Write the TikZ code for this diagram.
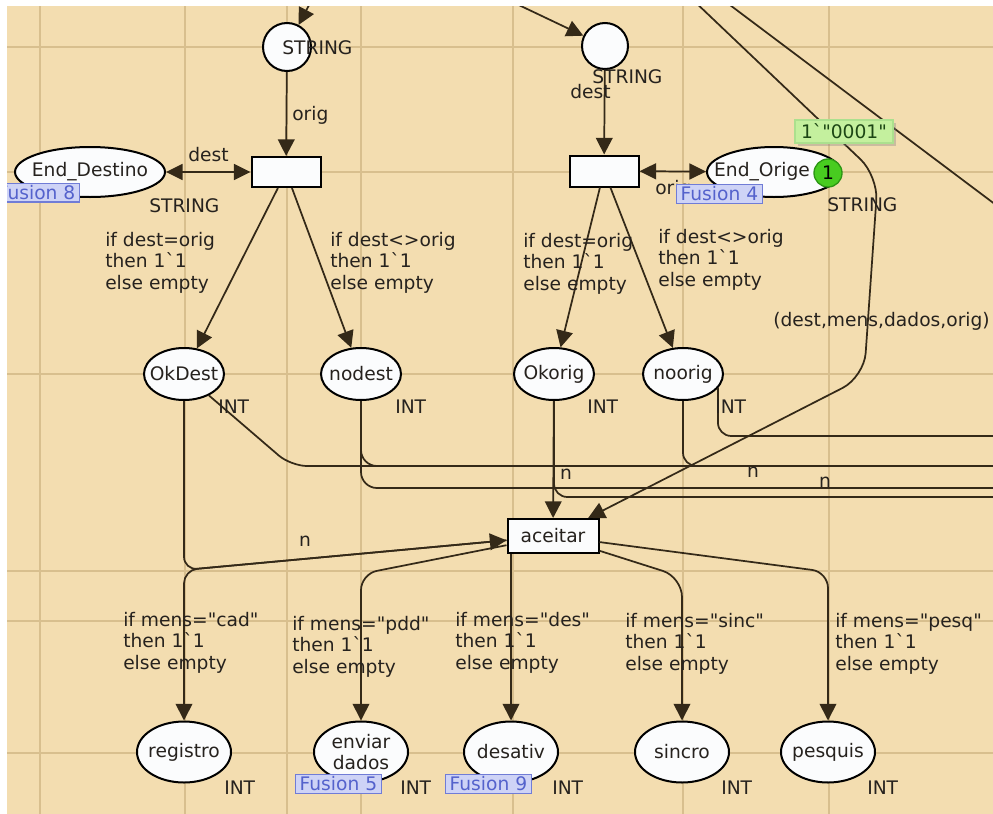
\documentclass[tikz,border=0pt]{standalone}
\usepackage{fontspec}
\usetikzlibrary{arrows.meta,shapes.geometric,shadows}
\newfontfamily\pn{DejaVu Sans}
\newcommand\pnsize{\fontsize{14}{16.1}\selectfont}
\definecolor{canvas}{RGB}{243,221,176}
\definecolor{guide}{RGB}{216,191,142}
\definecolor{arcc}{RGB}{52,41,24}
\definecolor{ink}{RGB}{38,34,30}
\definecolor{placefill}{RGB}{251,252,253}
\definecolor{fusfill}{RGB}{206,211,246}
\definecolor{fusline}{RGB}{112,124,214}
\definecolor{fustext}{RGB}{84,98,204}
\definecolor{markfill}{RGB}{196,240,158}
\definecolor{markline}{RGB}{172,224,142}
\definecolor{marktext}{RGB}{28,70,20}
\definecolor{tokfill}{RGB}{72,204,32}
\definecolor{tokline}{RGB}{44,150,20}
\begin{document}
\begin{tikzpicture}[x=0.75pt,y=-0.75pt,
  txt/.style={font=\pn\pnsize, text=ink},
  place/.style={ellipse, draw=black, line width=1.5pt, fill=placefill, inner sep=0pt, txt},
  trans/.style={rectangle, draw=black, line width=1.5pt, fill=placefill, inner sep=0pt, txt},
  link/.style={draw=arcc, line width=1.3pt},
  arc/.style={link, -{Triangle[length=12.5pt,width=12.5pt]}},
  arctwo/.style={link, {Triangle[length=12.5pt,width=12pt]}-{Triangle[length=12.5pt,width=12pt]}},
  lbl/.style={txt, inner sep=0pt, anchor=base west, align=left},
  nlbl/.style={txt, inner sep=0pt},
  fusion/.style={draw=fusline, fill=fusfill, line width=1pt, text=fustext, font=\pn\pnsize,
                 inner xsep=3pt, inner ysep=0.5pt, minimum height=14pt},
  guideline/.style={draw=guide, line width=1.3pt}
]
\useasboundingbox (0,0) rectangle (993,814);
\fill[white] (0,0) rectangle (993,814);
\begin{scope}
\clip (7,6) rectangle (993,814);
\fill[canvas] (7,6) rectangle (993,814);

% alignment guides
\foreach \gx in {40,185,287,361,513,683,829}
  \draw[guideline] (\gx,6) -- (\gx,814);
\foreach \gy in {47,172,374,571,621,753}
  \draw[guideline] (7,\gy) -- (993,\gy);

% places and transitions
\node[place, circle, minimum size=36pt] (p1) at (287,47) {};
\node[place, circle, minimum size=34.5pt] (p2) at (605,46) {};
\node[trans, minimum width=51.75pt, minimum height=22.5pt] (t1) at (286,172) {};
\node[trans, minimum width=51.75pt, minimum height=23.25pt] (t2) at (604,171) {};
\node[place, minimum width=112.5pt, minimum height=37.5pt] (endD) at (90,172) {\makebox[0pt]{End\_Destino}};
\node[place, minimum width=100.5pt, minimum height=37.5pt] (endO) at (774,172) {\makebox[0pt]{End\_Orige\hspace{18pt}}};
\node[place, minimum width=60pt, minimum height=39pt] (okdest) at (184,374) {\makebox[0pt]{OkDest}};
\node[place, minimum width=60pt, minimum height=39pt] (nodest) at (361,374) {\makebox[0pt]{nodest}};
\node[place, minimum width=60pt, minimum height=39pt] (okorig) at (554,374) {\makebox[0pt]{Okorig}};
\node[place, minimum width=60pt, minimum height=39pt] (noorig) at (683,374) {\makebox[0pt]{noorig}};
\node[trans, minimum width=68.25pt, minimum height=25.5pt] (aceitar) at (553,536) {\makebox[0pt]{aceitar}};
\node[place, minimum width=70.5pt, minimum height=45.75pt] (registro) at (184,752) {\makebox[0pt]{registro}};
\node[place, minimum width=70.5pt, minimum height=45.75pt, align=center] (enviar) at (361,752) {\makebox[0pt]{enviar}\\\makebox[0pt]{dados}};
\node[place, minimum width=70.5pt, minimum height=45.75pt] (desativ) at (511,752) {\makebox[0pt]{desativ}};
\node[place, minimum width=70.5pt, minimum height=45.75pt] (sincro) at (682,752) {\makebox[0pt]{sincro}};
\node[place, minimum width=70.5pt, minimum height=45.75pt] (pesquis) at (828,752) {\makebox[0pt]{pesquis}};

% free ends and bend points of the arcs
\coordinate (p1src) at (318,-12);
\coordinate (p2src) at (483,-12);
\coordinate (farA) at (710,-10);
\coordinate (farB) at (1012,217);
\coordinate (msgsrc) at (672,-20);
\coordinate (msgb1) at (878,176);
\coordinate (msgb2) at (864,377);
\coordinate (bReg) at (184,570);
\coordinate (bEnv) at (361,574);
\coordinate (bSin) at (682,577);
\coordinate (bPes) at (828,572);
\coordinate (bOkD) at (291,466);
\coordinate (rA) at (1012,466);
\coordinate (rB) at (1012,488);
\coordinate (rC) at (1012,497);
\coordinate (rD) at (1012,436);

% arcs
\draw[arc] (p1src) -- (p1);
\draw[arc] (p2src) -- (p2);
\draw[arc] (p1) -- (t1);
\draw[arc] (p2) -- (t2);
\draw[arctwo] (endD) -- (t1);
\draw[arctwo] (t2) -- (endO);
\draw[arc] (t1) -- (okdest);
\draw[arc] (t1) -- (nodest);
\draw[arc] (t2) -- (okorig);
\draw[arc] (t2) -- (noorig);
\draw[arc] (okorig) -- (aceitar);
\draw[arc, rounded corners=10pt] (okdest) -- (bReg) -- (aceitar);
\draw[arc, rounded corners=10pt] (aceitar) -- (bReg) -- (registro);
\draw[arc, rounded corners=12pt] (aceitar) -- (bEnv) -- (enviar);
\draw[arc] (desativ |- aceitar.south) -- (desativ);
\draw[arc, rounded corners=15pt] (aceitar) -- (bSin) -- (sincro);
\draw[arc, rounded corners=12pt] (aceitar) -- (bPes) -- (pesquis);
\draw[arc, rounded corners=18pt] (msgsrc) -- (msgb1) -- (msgb2) -- (aceitar);
\draw[link] (farA) -- (farB);
\draw[link, rounded corners=12pt] (okdest) -- (bOkD) -- (rA);
\draw[link, rounded corners=12pt] (nodest) |- (rA);
\draw[link, rounded corners=12pt] (nodest) |- (rB);
\draw[link, rounded corners=10pt] (okorig) |- (rC);
\draw[link, rounded corners=10pt] (noorig) |- (rA);
\draw[link, rounded corners=10pt] (noorig.-22) |- (rD);

% inscriptions (multi-line ones are placed by the baseline of their last line)
\node[lbl] (lstrp1) at (282,54) {STRING};
\node[lbl] (lorig1) at (292,120) {orig};
\node[lbl] (ldest1) at (188,161) {dest};
\node[lbl] (lstr1) at (149,212) {STRING};
\node[lbl] (lstrp2) at (592,83) {STRING};
\node[lbl] (ldest2) at (570,98) {dest};
\node[lbl] (lorig2) at (655,194) {orig};
\node[lbl] (lstr2) at (827,211) {STRING};
\node[lbl] (g1) at (105,289) {if dest=orig\\then 1`1\\else empty};
\node[lbl] (g2) at (330,289) {if dest<>orig\\then 1`1\\else empty};
\node[lbl] (g3) at (523,290) {if dest=orig\\then 1`1\\else empty};
\node[lbl] (g4) at (658,286) {if dest<>orig\\then 1`1\\else empty};
\node[lbl, anchor=base east] (lmsg) at (990,326) {(dest,mens,dados,orig)};
\node[lbl] (i1) at (218,413) {INT};
\node[lbl] (i2) at (395,413) {INT};
\node[lbl] (i3) at (587,413) {INT};
\node[lbl] (i4) at (715,413) {INT};
\node[nlbl] (n1) at (566,474) {n};
\node[nlbl] (n2) at (753,472) {n};
\node[nlbl] (n3) at (825,482) {n};
\node[nlbl] (n4) at (305,541) {n};
\node[lbl] (c1) at (123,669) {if mens="cad"\\then 1`1\\else empty};
\node[lbl] (c2) at (292,673) {if mens="pdd"\\then 1`1\\else empty};
\node[lbl] (c3) at (455,669) {if mens="des"\\then 1`1\\else empty};
\node[lbl] (c4) at (625,670) {if mens="sinc"\\then 1`1\\else empty};
\node[lbl] (c5) at (835,670) {if mens="pesq"\\then 1`1\\else empty};
\node[lbl] (i5) at (224,794) {INT};
\node[lbl] (i6) at (400,794) {INT};
\node[lbl] (i7) at (552,794) {INT};
\node[lbl] (i8) at (721,794) {INT};
\node[lbl] (i9) at (867,794) {INT};

% fusion tags
\node[fusion, anchor=east] (fus8) at (80,192.5) {Fusion 8};
\node[fusion, anchor=west] (fus4) at (676,194) {Fusion 4};
\node[fusion, anchor=west] (fus5) at (295,784) {Fusion 5};
\node[fusion, anchor=west] (fus9) at (445,784) {Fusion 9};

% marking
\node[fill=markfill, draw=markline, line width=0.8pt, font=\pn\pnsize, text=marktext,
      minimum width=73.5pt, minimum height=17.25pt, inner sep=0pt,
      drop shadow={opacity=0.35, shadow xshift=2pt, shadow yshift=-2pt}] (mark) at (844,131.5) {1`"0001"};
\node[circle, fill=tokfill, draw=tokline, line width=1pt, minimum size=21pt, inner sep=0pt, txt, text=black] (tok) at (828,173) {1};
\end{scope}
\end{tikzpicture}
\end{document}
